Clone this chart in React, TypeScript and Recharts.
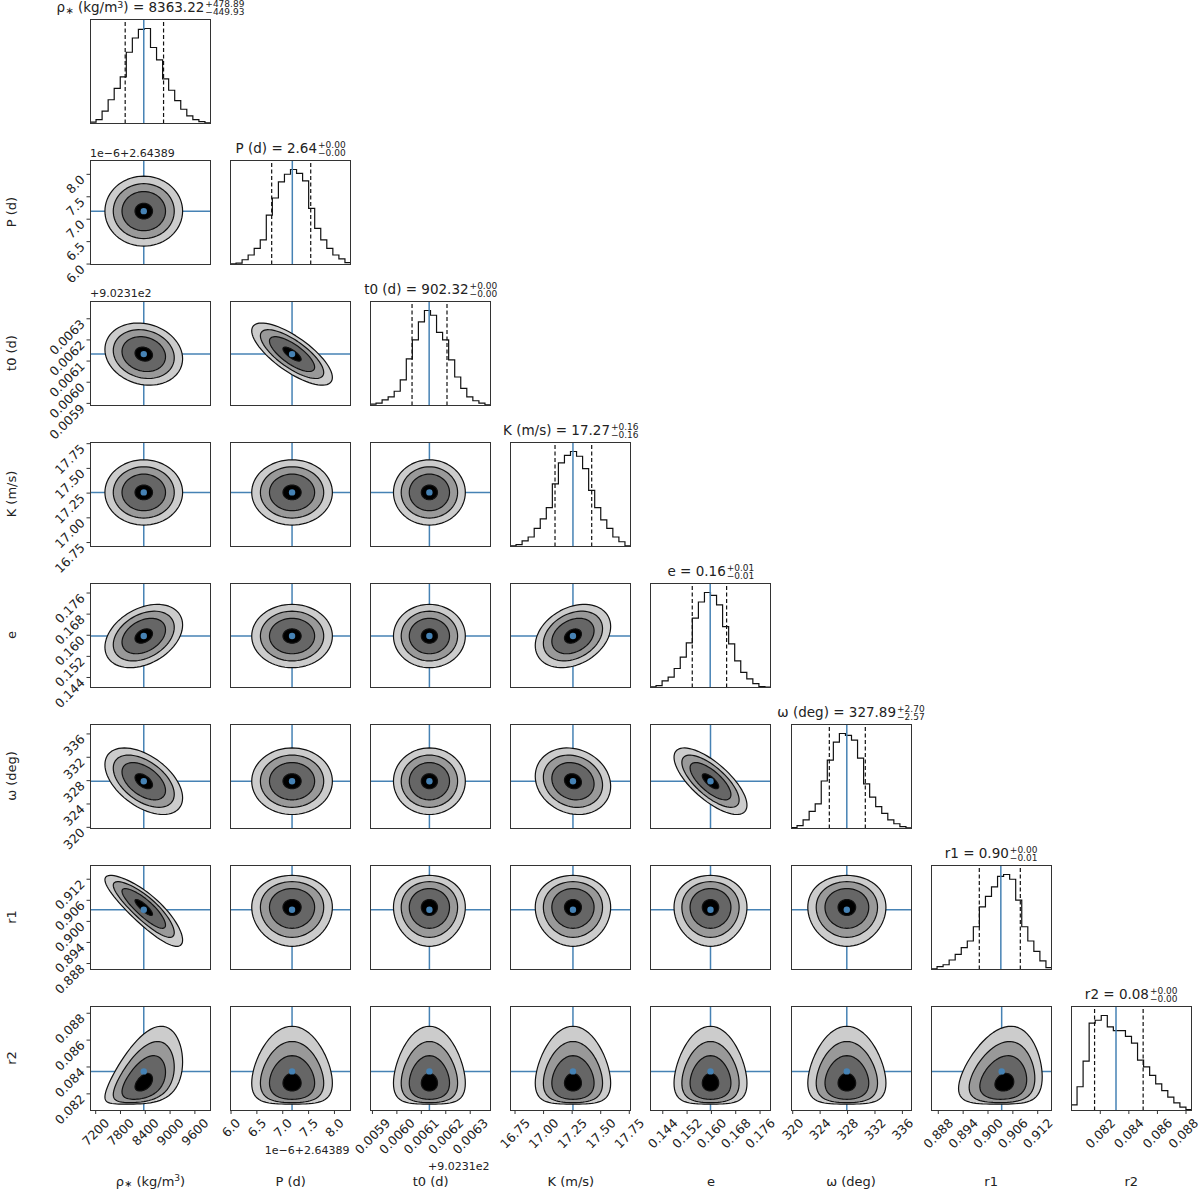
import React from 'react';
import { ComposedChart, Scatter, Line, XAxis, YAxis, ReferenceLine, ReferenceDot } from 'recharts';

// ---------------- data ----------------
const xDomains: number[][] = [
  [7062, 9990],
  [5.98, 8.32],
  [0.00589, 0.006385],
  [16.706, 17.765],
  [0.1398, 0.1796],
  [319.75, 337.4],
  [0.88624, 0.91545],
  [0.07995, 0.08842],
];
const yDomains: number[][] = [
  [7062, 9990],
  [5.99, 8.32],
  [0.00589, 0.006384],
  [16.71, 17.767],
  [0.1402, 0.1798],
  [319.8, 337.7],
  [0.8863, 0.91605],
  [0.08076, 0.08854],
];
const tickValues: number[][] = [
  [7200, 7800, 8400, 9000, 9600],
  [6.0, 6.5, 7.0, 7.5, 8.0],
  [0.0059, 0.006, 0.0061, 0.0062, 0.0063],
  [16.75, 17.0, 17.25, 17.5, 17.75],
  [0.144, 0.152, 0.16, 0.168, 0.176],
  [320, 324, 328, 332, 336],
  [0.888, 0.894, 0.9, 0.906, 0.912],
  [0.082, 0.084, 0.086, 0.088],
];
const tickDecimals = [0, 1, 4, 2, 3, 0, 3, 3];

const truths = [8363.22, 7.18, 0.006133, 17.257, 0.1597, 327.89, 0.9033, 0.08367];
const medians = [8363.22, 7.185, 0.006132, 17.257, 0.1596, 327.89, 0.9031, 0.0831];
const q16 = [7913.3, 6.786, 0.006062, 17.1, 0.1537, 325.34, 0.8979, 0.0816];
const q84 = [8842.1, 7.541, 0.006205, 17.421, 0.165, 330.59, 0.9078, 0.085];

const histRho = [1.4, 4, 13, 25, 37, 49, 75, 90, 99, 100, 80, 67, 47, 35, 24, 15, 8, 4, 2, 0.7];
const histP = [0.7, 1.4, 5, 10, 17, 26, 52, 70, 87, 95, 100, 96, 88, 59, 38, 26, 17, 10, 6, 2];
const histT0 = [1.4, 2.4, 6, 9, 15, 27, 49, 69, 88, 100, 95, 77, 69, 48, 30, 18, 9, 5, 2.4, 0.7];
const histK = [0.7, 2, 6, 10, 19, 29, 41, 66, 88, 96, 100, 95, 82, 59, 41, 28, 19, 10, 5, 0.7];
const histE = [0.7, 2, 7, 11, 20, 32, 47, 73, 90, 100, 97, 87, 64, 46, 28, 16, 9, 4, 1, 0.4];
const histOmega = [1, 3, 9, 18, 26, 50, 72, 91, 100, 98, 93, 74, 47, 33, 23, 16, 9, 5, 2, 0.7];
const histR1 = [0.7, 3, 5, 10, 16, 23, 30, 45, 66, 77, 87, 98, 100, 95, 73, 45, 30, 19, 9, 2];
const histR2 = [6, 25, 52, 92, 95, 100, 88, 84, 84, 78, 71, 53, 46, 37, 28, 21, 14, 8, 3.5, 1];
const histograms = [histRho, histP, histT0, histK, histE, histOmega, histR1, histR2];

// 2D contour shape parameters
const centers = [8363, 7.18, 0.006133, 17.257, 0.1597, 327.9, 0.904, 0.0828];
const spreads = [470, 0.39, 0.0000735, 0.165, 0.006, 2.85, 0.00505, 0.00145];
const skews = [0, 0, 0, 0, 0, 0, -0.05, 0.23];
const correlations: number[][] = [
  [0, 2, -0.15],
  [1, 2, -0.75],
  [0, 4, 0.35],
  [3, 4, 0.3],
  [0, 5, -0.5],
  [3, 5, -0.15],
  [4, 5, -0.72],
  [0, 6, -0.85],
  [0, 7, 0.45],
  [6, 7, 0.15],
];
const contourRadii = [2.0, 1.57, 1.12, 0.45];
const contourFills = ['#cccccc', '#999999', '#666666', '#000000'];

const titleValues = ['8363.22', '2.64', '902.32', '17.27', '0.16', '327.89', '0.90', '0.08'];
const titlePlus = ['+478.89', '+0.00', '+0.00', '+0.16', '+0.01', '+2.70', '+0.00', '+0.00'];
const titleMinus = ['\u2212449.93', '\u22120.00', '\u22120.00', '\u22120.16', '\u22120.01', '\u22122.57', '\u22120.01', '\u22120.00'];
const plainLabels = ['', 'P (d)', 't0 (d)', 'K (m/s)', 'e', '\u03c9 (deg)', 'r1', 'r2'];

// ---------------- layout ----------------
const FONT = "'DejaVu Sans', sans-serif";
const BLUE = '#4682b4';
const INK = '#222';
const PX0 = 90, PITCH_X = 140.1, PW = 121;
const PY0 = 19, PITCH_Y = 141, PH = 104.5;
const ML = 60, MR = 36, MT = 4, MB = 60;
const TICK_FS = 12.5;
const N = 72;
const PAGE_W = 1200;

const colX = (j: number) => PX0 + PITCH_X * j;
const rowY = (i: number) => PY0 + PITCH_Y * i;

function corrOf(a: number, b: number) {
  for (const [p, q, r] of correlations) {
    if ((p === a && q === b) || (p === b && q === a)) return r;
  }
  return 0;
}

function contourRing(a: number, b: number, R: number) {
  const r = corrOf(a, b);
  const s = Math.sqrt(1 - r * r);
  const pts: { x: number; y: number }[] = [];
  for (let k = 0; k <= N; k++) {
    const th = (2 * Math.PI * k) / N;
    const u = R * Math.cos(th);
    const v = R * (r * Math.cos(th) + s * Math.sin(th));
    pts.push({
      x: centers[a] + spreads[a] * (u + skews[a] * u * u),
      y: centers[b] + spreads[b] * (v + skews[b] * v * v),
    });
  }
  return pts;
}

function stepPoints(p: number) {
  const h = histograms[p];
  const [lo, hi] = xDomains[p];
  const w = (hi - lo) / h.length;
  const pts: { x: number; y: number }[] = [{ x: lo, y: 0 }];
  h.forEach((v, k) => pts.push({ x: lo + k * w, y: v }));
  pts.push({ x: hi, y: h[h.length - 1] });
  pts.push({ x: hi, y: 0 });
  return pts;
}

const approxWidth = (s: string, fs: number) => {
  let w = 0;
  for (const c of s) w += c === '.' ? 0.318 : 0.636;
  return w * fs;
};

const makeXTick = (p: number, bottom: number, chartLeft: number) => (props: any) => {
  const { x, payload } = props;
  const label = Number(payload.value).toFixed(tickDecimals[p]);
  const L = approxWidth(label, TICK_FS);
  const half = ((L + 0.75 * TICK_FS) * 0.7071) / 2;
  // keep the rotated label inside the page
  const cx = Math.min(x, PAGE_W - 1 - chartLeft - half);
  const cy = bottom + 7 + half;
  return (
    <text x={cx} y={cy} textAnchor="middle" dominantBaseline="central" transform={`rotate(-45 ${cx} ${cy})`}
      fontSize={TICK_FS} fontFamily={FONT} fill={INK}>{label}</text>
  );
};

const makeYTick = (p: number, left: number) => (props: any) => {
  const { y, payload } = props;
  const label = Number(payload.value).toFixed(tickDecimals[p]);
  const ax = left - 7.5;
  const ay = y + 2.8;
  return (
    <text x={ax} y={ay} textAnchor="end" dominantBaseline="central" transform={`rotate(-45 ${ax} ${ay})`}
      fontSize={TICK_FS} fontFamily={FONT} fill={INK}>{label}</text>
  );
};

const noShape = () => <g />;

const polygonLine = (fill: string) => (props: any) => {
  const pts = props.points || [];
  if (!pts.length) return <g />;
  const d = pts.map((q: any, k: number) => `${k ? 'L' : 'M'}${q.x},${q.y}`).join('') + 'Z';
  return <path d={d} fill={fill} stroke="#111" strokeWidth={1.2} strokeLinejoin="round" />;
};

function ParamLabel({ p }: { p: number }) {
  if (p === 0) {
    return (
      <>
        {'\u03c1'}
        <span style={{ fontSize: '0.75em', position: 'relative', top: '0.2em' }}>{'\u2217'}</span>
        {' (kg/m'}
        <span style={{ fontSize: '0.7em', position: 'relative', top: '-0.45em' }}>3</span>
        {')'}
      </>
    );
  }
  return <>{plainLabels[p]}</>;
}

function Frame({ i, j }: { i: number; j: number }) {
  return (
    <div style={{ position: 'absolute', left: colX(j), top: rowY(i), width: PW, height: PH, border: '1px solid #333', boxSizing: 'border-box', pointerEvents: 'none' }} />
  );
}

// plot area inside each chart: left = ML, top = MT, size PW x PH
const CW = PW + ML + MR;
const CH = PH + MT + MB;

function ContourPanel({ i, j }: { i: number; j: number }) {
  const rings = contourRadii.map((R) => contourRing(j, i, R));
  const left = colX(j) - ML;
  return (
    <div style={{ position: 'absolute', left, top: rowY(i) - MT }}>
      <ComposedChart width={CW} height={CH} margin={{ top: MT, right: MR, bottom: MB - 1, left: ML - 1 }}>
        <XAxis dataKey="x" type="number" domain={xDomains[j]} allowDataOverflow ticks={tickValues[j]} interval={0}
          height={1} tickSize={3.5} tickMargin={2} axisLine={false} tickLine={{ stroke: '#333' }}
          tick={i === 7 ? makeXTick(j, MT + PH, left) : false} />
        <YAxis dataKey="y" type="number" domain={yDomains[i]} allowDataOverflow ticks={tickValues[i]} interval={0}
          width={1} tickSize={3.5} tickMargin={2} axisLine={false} tickLine={{ stroke: '#333' }}
          tick={j === 0 ? makeYTick(i, ML) : false} />
        {rings.map((ring, k) => (
          <Scatter key={k} data={ring} line={polygonLine(contourFills[k])} lineType="joint" shape={noShape}
            fill={contourFills[k]} isAnimationActive={false} />
        ))}
        <ReferenceLine x={truths[j]} stroke={BLUE} strokeWidth={1.5} />
        <ReferenceLine y={truths[i]} stroke={BLUE} strokeWidth={1.5} />
        <ReferenceDot x={truths[j]} y={truths[i]} r={3.2} fill={BLUE} stroke="none" />
      </ComposedChart>
    </div>
  );
}

function HistPanel({ p }: { p: number }) {
  const data = stepPoints(p);
  const maxV = Math.max(...histograms[p]);
  const left = colX(p) - ML;
  return (
    <div style={{ position: 'absolute', left, top: rowY(p) - MT }}>
      <ComposedChart width={CW} height={CH} margin={{ top: MT, right: MR, bottom: MB - 1, left: ML }} data={data}>
        <XAxis dataKey="x" type="number" domain={xDomains[p]} allowDataOverflow ticks={tickValues[p]} interval={0}
          height={1} tickSize={3.5} tickMargin={2} axisLine={false} tickLine={{ stroke: '#333' }}
          tick={p === 7 ? makeXTick(p, MT + PH, left) : false} />
        <YAxis type="number" domain={[0, maxV * 1.1]} allowDataOverflow hide />
        <Line dataKey="y" type="stepAfter" stroke="#111" strokeWidth={1.2} dot={false} isAnimationActive={false} />
        <ReferenceLine x={q16[p]} stroke="#111" strokeWidth={1.2} strokeDasharray="4 2.5" />
        <ReferenceLine x={q84[p]} stroke="#111" strokeWidth={1.2} strokeDasharray="4 2.5" />
        <ReferenceLine x={medians[p]} stroke={BLUE} strokeWidth={1.5} />
      </ComposedChart>
    </div>
  );
}

function Title({ p }: { p: number }) {
  const B = rowY(p) - 6.5;
  const T = Math.max(B - 12.3, 0.5);
  const mt = B - 11.4 - T;
  return (
    <div style={{ position: 'absolute', left: colX(p) + PW / 2, top: T, transform: 'translateX(-50%)', whiteSpace: 'nowrap', display: 'flex', alignItems: 'flex-start', fontFamily: FONT, color: INK }}>
      <span style={{ fontSize: 13.5, lineHeight: '13.5px', marginTop: mt }}>
        <ParamLabel p={p} />
        {' = ' + titleValues[p]}
      </span>
      <span style={{ display: 'flex', flexDirection: 'column', fontSize: 9, lineHeight: '8px', marginLeft: 1, marginTop: B - 12.3 - T }}>
        <span>{titlePlus[p]}</span>
        <span>{titleMinus[p]}</span>
      </span>
    </div>
  );
}

export default function App() {
  const items: React.ReactNode[] = [];
  for (let i = 0; i < 8; i++) {
    for (let j = 0; j <= i; j++) {
      if (i === j) items.push(<HistPanel key={`h${i}`} p={i} />);
      else items.push(<ContourPanel key={`c${i}-${j}`} i={i} j={j} />);
      items.push(<Frame key={`f${i}-${j}`} i={i} j={j} />);
    }
  }
  const textBase: React.CSSProperties = { position: 'absolute', fontFamily: FONT, color: INK, whiteSpace: 'nowrap' };
  return (
    <div style={{ position: 'absolute', left: 0, top: 0, width: 1200, height: 1191, background: '#fff', overflow: 'hidden' }}>
      {items}
      {[0, 1, 2, 3, 4, 5, 6, 7].map((p) => <Title key={`t${p}`} p={p} />)}
      {[1, 2, 3, 4, 5, 6, 7].map((p) => (
        <div key={`yl${p}`} style={{ ...textBase, left: 11, top: rowY(p) + PH / 2, fontSize: 13, lineHeight: '13px', transform: 'translate(-50%, -50%) rotate(-90deg)' }}>
          <ParamLabel p={p} />
        </div>
      ))}
      {[0, 1, 2, 3, 4, 5, 6, 7].map((p) => (
        <div key={`xl${p}`} style={{ ...textBase, left: colX(p) + PW / 2, top: 1174.5, fontSize: 13, lineHeight: '13px', transform: 'translateX(-50%)' }}>
          <ParamLabel p={p} />
        </div>
      ))}
      <div style={{ ...textBase, left: 90, top: 148.2, fontSize: 11, lineHeight: '11px' }}>1e{'\u2212'}6+2.64389</div>
      <div style={{ ...textBase, left: 90, top: 288.4, fontSize: 11, lineHeight: '11px' }}>+9.0231e2</div>
      <div style={{ ...textBase, right: 1200 - 349.5, top: 1144.7, fontSize: 11, lineHeight: '11px' }}>1e{'\u2212'}6+2.64389</div>
      <div style={{ ...textBase, right: 1200 - 489.5, top: 1160.7, fontSize: 11, lineHeight: '11px' }}>+9.0231e2</div>
    </div>
  );
}
